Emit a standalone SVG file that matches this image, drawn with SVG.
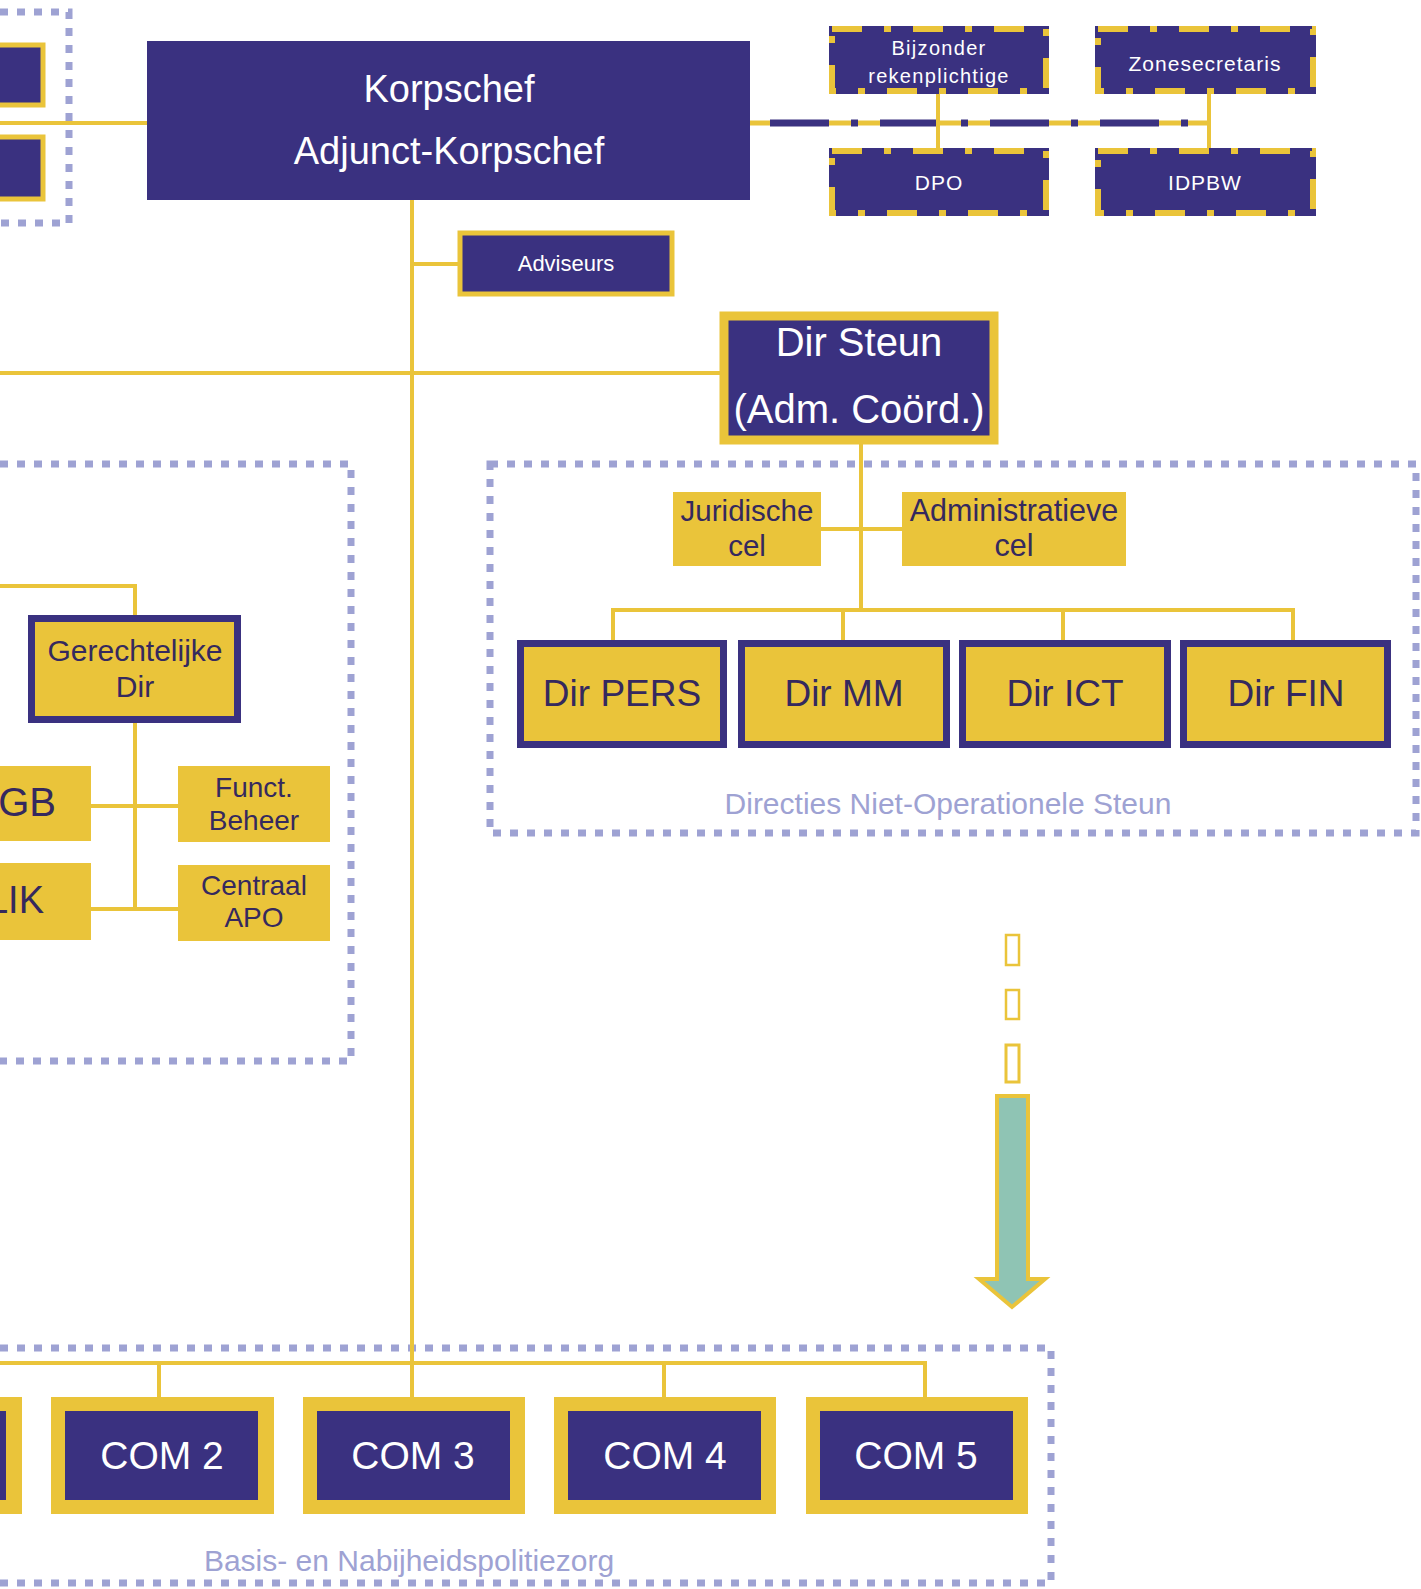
<svg xmlns="http://www.w3.org/2000/svg" width="1421" height="1589" viewBox="0 0 1421 1589">
<style>
.bg{fill:#ffffff}
.ln{stroke:#eac43a;stroke-width:4;fill:none}
.dot{stroke:#9ea2d3;stroke-width:7;fill:none;stroke-dasharray:8 9}
.navy{fill:#3a3180}
.yel{fill:#eac43a}
.nbY{fill:#3a3180;stroke:#eac43a}
.yN{fill:#eac43a;stroke:#3a3180;stroke-width:7}
.dd{fill:#3a3180;stroke:#3a3180;stroke-width:6}
.ddY{fill:none;stroke:#eac43a;stroke-width:6;stroke-dasharray:30 22 7 22}
.tw{font-family:"Liberation Sans",Arial,sans-serif;fill:#ffffff;text-anchor:middle}
.td{font-family:"Liberation Sans",Arial,sans-serif;fill:#35295e;text-anchor:middle}
.tl{font-family:"Liberation Sans",Arial,sans-serif;fill:#9ea2d3;text-anchor:middle}
</style>
<rect class="bg" x="0" y="0" width="1421" height="1589"/>

<!-- group frames -->
<g id="frames">
  <path class="dot" d="M0 12 H69 V223 H0"/>
  <path class="dot" d="M0 464 H351 V1061 H0"/>
  <rect class="dot" x="490" y="464" width="926" height="369"/>
  <path class="dot" d="M0 1348 H1051 V1583 H0"/>
</g>

<!-- connectors -->
<g id="connectors">
  <line class="ln" x1="0" y1="123" x2="147" y2="123"/>
  <line class="ln" x1="412" y1="200" x2="412" y2="1397"/>
  <line class="ln" x1="412" y1="264" x2="458" y2="264"/>
  <line class="ln" x1="0" y1="373" x2="720" y2="373"/>
  <line x1="750" y1="123" x2="1209" y2="123" stroke="#eac43a" stroke-width="5"/>
  <line x1="750" y1="123" x2="1209" y2="123" stroke="#3a3180" stroke-width="7" stroke-dasharray="59 22 7 22" stroke-dashoffset="-20"/>
  <line class="ln" x1="938" y1="93" x2="938" y2="148"/>
  <line class="ln" x1="1209" y1="93" x2="1209" y2="148"/>
  <line class="ln" x1="861" y1="444" x2="861" y2="610"/>
  <line class="ln" x1="821" y1="529" x2="902" y2="529"/>
  <path class="ln" d="M613 640 V610 H1293 V640 M843 610 V640 M1063 610 V640"/>
  <path class="ln" d="M0 586 H135 V615 M135 723 V909 M91 806 H178 M91 909 H178"/>
  <path class="ln" d="M0 1363 H925 V1397 M159 1363 V1397 M664 1363 V1397"/>
</g>

<!-- top-left partial nodes -->
<g id="tl-node-1"><rect class="nbY" x="-10" y="45" width="53" height="60" stroke-width="5"/></g>
<g id="tl-node-2"><rect class="nbY" x="-10" y="137" width="53" height="62" stroke-width="5"/></g>

<g id="korpschef">
  <rect class="navy" x="147" y="41" width="603" height="159"/>
  <text class="tw" x="449" y="102" font-size="38">Korpschef</text>
  <text class="tw" x="449" y="164" font-size="38">Adjunct-Korpschef</text>
</g>

<g id="bijzonder">
  <rect class="dd" x="832" y="29" width="214" height="62"/>
  <rect class="ddY" x="832" y="29" width="214" height="62"/>
  <text class="tw" x="939" y="55" font-size="20" letter-spacing="1.3">Bijzonder</text>
  <text class="tw" x="939" y="83" font-size="20" letter-spacing="1.3">rekenplichtige</text>
</g>
<g id="zonesecretaris">
  <rect class="dd" x="1098" y="29" width="215" height="62"/>
  <rect class="ddY" x="1098" y="29" width="215" height="62"/>
  <text class="tw" x="1205" y="71" font-size="21" letter-spacing="1">Zonesecretaris</text>
</g>
<g id="dpo">
  <rect class="dd" x="832" y="151" width="214" height="62"/>
  <rect class="ddY" x="832" y="151" width="214" height="62"/>
  <text class="tw" x="939" y="190" font-size="21" letter-spacing="1">DPO</text>
</g>
<g id="idpbw">
  <rect class="dd" x="1098" y="151" width="215" height="62"/>
  <rect class="ddY" x="1098" y="151" width="215" height="62"/>
  <text class="tw" x="1205" y="190" font-size="21" letter-spacing="1">IDPBW</text>
</g>

<g id="adviseurs">
  <rect class="nbY" x="460" y="233" width="212" height="61" stroke-width="5"/>
  <text class="tw" x="566" y="271" font-size="22">Adviseurs</text>
</g>

<g id="dir-steun">
  <rect class="nbY" x="724" y="316" width="270" height="124" stroke-width="9"/>
  <text class="tw" x="859" y="356" font-size="40">Dir Steun</text>
  <text class="tw" x="859" y="423" font-size="40">(Adm. Coörd.)</text>
</g>

<g id="juridische">
  <rect class="yel" x="673" y="492" width="148" height="74"/>
  <text class="td" x="747" y="521" font-size="29.5">Juridische</text>
  <text class="td" x="747" y="556" font-size="29.5">cel</text>
</g>
<g id="administratieve">
  <rect class="yel" x="902" y="492" width="224" height="74"/>
  <text class="td" x="1014" y="521" font-size="30.5">Administratieve</text>
  <text class="td" x="1014" y="556" font-size="30.5">cel</text>
</g>

<g id="dir-pers">
  <rect class="yN" x="520.5" y="643.5" width="203" height="101"/>
  <text class="td" x="622" y="706" font-size="37">Dir PERS</text>
</g>
<g id="dir-mm">
  <rect class="yN" x="741.5" y="643.5" width="205" height="101"/>
  <text class="td" x="844" y="706" font-size="37">Dir MM</text>
</g>
<g id="dir-ict">
  <rect class="yN" x="962.5" y="643.5" width="205" height="101"/>
  <text class="td" x="1065" y="706" font-size="37">Dir ICT</text>
</g>
<g id="dir-fin">
  <rect class="yN" x="1183.5" y="643.5" width="204" height="101"/>
  <text class="td" x="1286" y="706" font-size="37">Dir FIN</text>
</g>
<text class="tl" x="948" y="814" font-size="30">Directies Niet-Operationele Steun</text>

<g id="gerechtelijke">
  <rect class="yN" x="31.5" y="618.5" width="206" height="101"/>
  <text class="td" x="135" y="661" font-size="30">Gerechtelijke</text>
  <text class="td" x="135" y="697" font-size="30">Dir</text>
</g>
<g id="gb">
  <rect class="yel" x="0" y="766" width="91" height="75"/>
  <text class="td" x="56" y="816" font-size="40" style="text-anchor:end">GB</text>
</g>
<g id="lik">
  <rect class="yel" x="0" y="863" width="91" height="77"/>
  <text class="td" x="44" y="913" font-size="38" style="text-anchor:end">LIK</text>
</g>
<g id="funct-beheer">
  <rect class="yel" x="178" y="766" width="152" height="76"/>
  <text class="td" x="254" y="797" font-size="28">Funct.</text>
  <text class="td" x="254" y="830" font-size="28">Beheer</text>
</g>
<g id="centraal-apo">
  <rect class="yel" x="178" y="865" width="152" height="76"/>
  <text class="td" x="254" y="895" font-size="28">Centraal</text>
  <text class="td" x="254" y="927" font-size="28">APO</text>
</g>

<g id="arrow">
  <rect x="1006" y="935" width="13" height="30" fill="none" stroke="#eac43a" stroke-width="2.5"/>
  <rect x="1006" y="990" width="13" height="29" fill="none" stroke="#eac43a" stroke-width="2.5"/>
  <rect x="1006" y="1045" width="13" height="37" fill="none" stroke="#eac43a" stroke-width="3"/>
  <path d="M997 1096 H1028 V1279 H1045 L1012 1307 L979 1279 H997 Z" fill="#8fc4b4" stroke="#eac43a" stroke-width="4" stroke-linejoin="miter"/>
</g>

<g id="com1">
  <rect class="yel" x="-201" y="1397" width="223" height="117"/>
  <rect class="navy" x="-187" y="1411" width="193" height="89"/>
</g>
<g id="com2">
  <rect class="yel" x="51" y="1397" width="223" height="117"/>
  <rect class="navy" x="65" y="1411" width="193" height="89"/>
  <text class="tw" x="162" y="1469" font-size="39">COM 2</text>
</g>
<g id="com3">
  <rect class="yel" x="303" y="1397" width="222" height="117"/>
  <rect class="navy" x="317" y="1411" width="193" height="89"/>
  <text class="tw" x="413" y="1469" font-size="39">COM 3</text>
</g>
<g id="com4">
  <rect class="yel" x="554" y="1397" width="222" height="117"/>
  <rect class="navy" x="568" y="1411" width="193" height="89"/>
  <text class="tw" x="665" y="1469" font-size="39">COM 4</text>
</g>
<g id="com5">
  <rect class="yel" x="806" y="1397" width="222" height="117"/>
  <rect class="navy" x="820" y="1411" width="193" height="89"/>
  <text class="tw" x="916" y="1469" font-size="39">COM 5</text>
</g>
<text class="tl" x="409" y="1571" font-size="30">Basis- en Nabijheidspolitiezorg</text>
</svg>
